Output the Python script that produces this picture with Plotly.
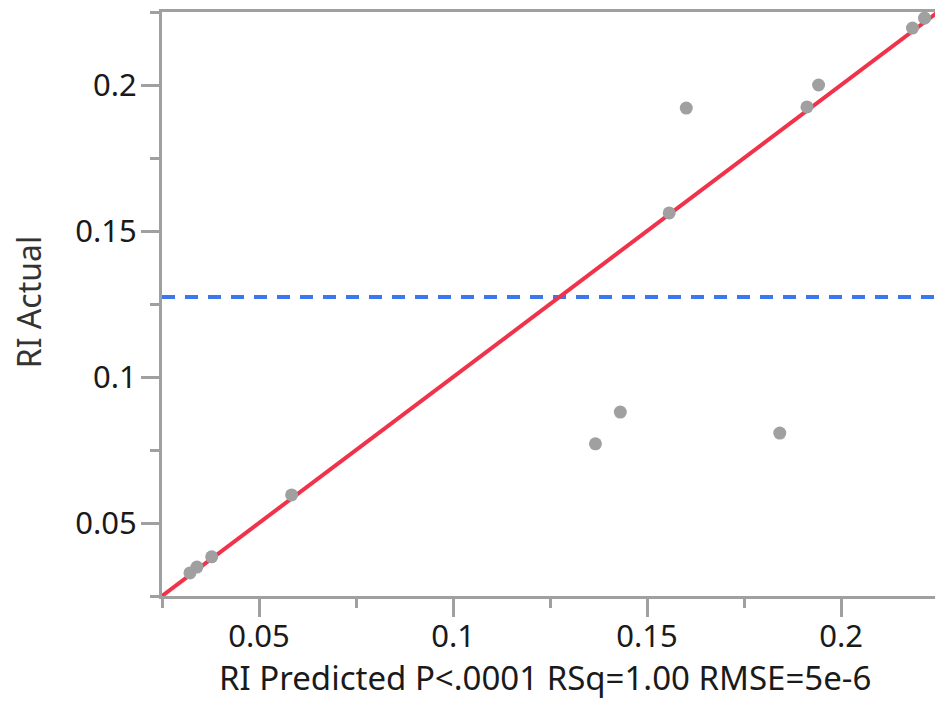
import plotly.graph_objects as go

# Data (RI Predicted vs RI Actual)
ri_predicted = [0.0322, 0.0340, 0.0378, 0.0584, 0.1367, 0.1431, 0.1557,
                0.1601, 0.1842, 0.1912, 0.1942, 0.2184, 0.2215]
ri_actual = [0.0329, 0.0349, 0.0384, 0.0596, 0.0771, 0.0880, 0.1562,
             0.1921, 0.0808, 0.1925, 0.2000, 0.2195, 0.2229]
mean_actual = 0.1274
x_range = [0.025, 0.2242]
y_range = [0.025, 0.225]
x_ticks = [0.05, 0.1, 0.15, 0.2]
x_ticklabels = ["0.05", "0.1", "0.15", "0.2"]
y_ticks = [0.05, 0.1, 0.15, 0.2]
y_ticklabels = ["0.05", "0.1", "0.15", "0.2"]
x_title = "RI Predicted P<.0001 RSq=1.00 RMSE=5e-6"
y_title = "RI Actual"

AX = "#A0A0A0"
FONT = "Noto Sans"

fig = go.Figure()
# mean line
fig.add_trace(go.Scatter(x=x_range, y=[mean_actual, mean_actual], mode="lines",
                         line=dict(color="#3B78F0", width=4, dash="13px,10px"),
                         hoverinfo="skip", showlegend=False))
# fit line (identity)
fig.add_trace(go.Scatter(x=[y_range[0], y_range[1]], y=[y_range[0], y_range[1]], mode="lines",
                         line=dict(color="#F0324A", width=4),
                         hoverinfo="skip", showlegend=False))
# points
fig.add_trace(go.Scatter(x=ri_predicted, y=ri_actual, mode="markers",
                         marker=dict(color="#A0A0A0", size=13, line=dict(width=0)),
                         showlegend=False))

def axis_common(standoff):
    return dict(
        showgrid=False, zeroline=False, showline=True, linecolor=AX, linewidth=3,
        ticks="outside", ticklen=18, tickwidth=3, tickcolor=AX,
        tickfont=dict(family=FONT, size=31, color="#1a1a1a"),
        ticklabelstandoff=standoff,
        minor=dict(ticks="outside", ticklen=9, tickwidth=3, tickcolor=AX,
                   dtick=0.025, tick0=0, showgrid=False),
    )

fig.update_xaxes(range=x_range, tickmode="array", tickvals=x_ticks,
                 ticktext=x_ticklabels, mirror=True, **axis_common(-7))
fig.update_yaxes(range=y_range, tickmode="array", tickvals=y_ticks,
                 ticktext=y_ticklabels, **axis_common(-2))

fig.update_layout(
    width=935, height=701,
    margin=dict(l=162, r=0, t=12, b=105),
    paper_bgcolor="white", plot_bgcolor="white",
    font=dict(family=FONT, color="#1a1a1a"),
    annotations=[
        dict(text=x_title, xref="paper", yref="paper", x=0.4955, y=-0.1404,
             xanchor="center", yanchor="middle", showarrow=False, borderpad=0,
             font=dict(family=FONT, size=33, color="#1a1a1a")),
        dict(text=y_title, xref="paper", yref="paper", x=-0.1734, y=0.503,
             xanchor="center", yanchor="middle", showarrow=False, textangle=-90,
             font=dict(family=FONT, size=32, color="#333333")),
    ],
)

fig.write_html("out.html")
